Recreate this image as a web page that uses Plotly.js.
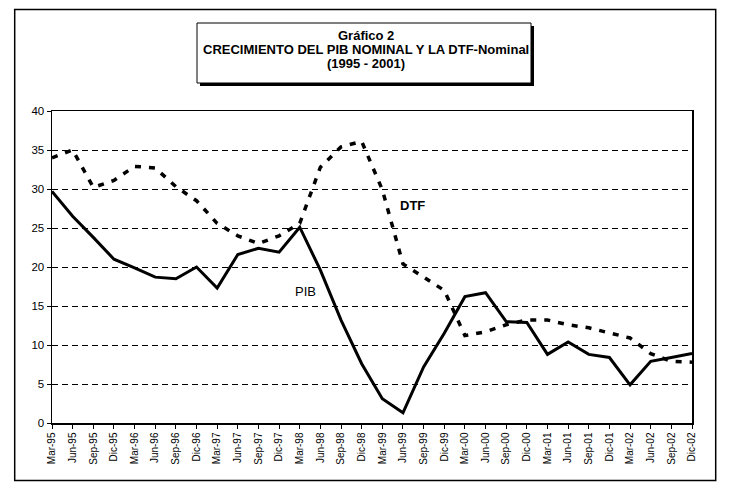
<!DOCTYPE html>
<html>
<head>
<meta charset="utf-8">
<script src="https://cdn.plot.ly/plotly-3.0.1.min.js"></script>
<style>
  html, body { margin: 0; padding: 0; background: #fff; }
  #plot { width: 732px; height: 501px; }
</style>
</head>
<body>
<div id="plot"></div>
<script>
// quarterly data
var quarters = ['Mar-95','Jun-95','Sep-95','Dic-95','Mar-96','Jun-96','Sep-96','Dic-96',
  'Mar-97','Jun-97','Sep-97','Dic-97','Mar-98','Jun-98','Sep-98','Dic-98',
  'Mar-99','Jun-99','Sep-99','Dic-99','Mar-00','Jun-00','Sep-00','Dic-00',
  'Mar-01','Jun-01','Sep-01','Dic-01','Mar-02','Jun-02','Sep-02','Dic-02'];

var pib = [29.7, 26.5, 23.8, 21.0, 19.9, 18.7, 18.5, 20.0,
  17.3, 21.6, 22.4, 21.9, 25.1, 19.6, 13.2, 7.6,
  3.1, 1.3, 7.2, 11.5, 16.2, 16.7, 13.0, 12.9,
  8.8, 10.4, 8.8, 8.4, 4.9, 7.9, 8.4, 8.9];

var dtf = [34.0, 35.0, 30.2, 31.1, 32.9, 32.7, 30.3, 28.5,
  25.6, 24.0, 23.0, 24.0, 25.6, 32.8, 35.4, 36.1,
  29.9, 20.4, 18.7, 17.0, 11.2, 11.7, 12.6, 13.2,
  13.2, 12.6, 12.2, 11.5, 10.9, 8.9, 7.9, 7.8];

var yTicks = [0, 5, 10, 15, 20, 25, 30, 35, 40];

var titleLines = ['Gráfico 2', 'CRECIMIENTO DEL PIB NOMINAL Y LA DTF-Nominal', '(1995 - 2001)'];

var font = 'Liberation Sans, Arial, sans-serif';

// pixel -> paper helpers (plot area is 52..692 x 111..423)
function px(x) { return (x - 52) / 640; }
function py(y) { return (423 - y) / 312; }

function loadPlot() {
  var data = [
    {
      x: quarters,
      y: dtf,
      mode: 'lines',
      line: { color: 'rgb(0,0,0)', width: 3.5, dash: '6px,8px' },
      hoverinfo: 'skip'
    },
    {
      x: quarters,
      y: pib,
      mode: 'lines',
      line: { color: 'rgb(0,0,0)', width: 3 },
      hoverinfo: 'skip'
    }
  ];

  var annotations = [
    { text: 'PIB', x: px(305), y: py(291), font: { size: 13 } },
    { text: '<b>DTF</b>', x: px(412), y: py(205), font: { size: 13 } },
    { text: '<b>' + titleLines[0] + '</b>', x: px(366), y: py(35), font: { size: 13 } },
    { text: '<b>' + titleLines[1] + '</b>', x: px(366), y: py(49), font: { size: 13 } },
    { text: '<b>' + titleLines[2] + '</b>', x: px(366), y: py(63), font: { size: 13 } }
  ].map(function (a) {
    a.xref = 'paper'; a.yref = 'paper';
    a.xanchor = 'center'; a.yanchor = 'middle';
    a.showarrow = false;
    a.font.family = font; a.font.color = '#000';
    return a;
  });

  var shapes = [
    // outer frame
    { type: 'rect', xref: 'paper', yref: 'paper', layer: 'below',
      x0: px(14.7), x1: px(715.7), y0: py(480.5), y1: py(9.5),
      line: { color: '#000', width: 1.5 } },
    // title box shadow
    { type: 'rect', xref: 'paper', yref: 'paper',
      x0: px(200), x1: px(534), y0: py(86), y1: py(26),
      fillcolor: '#000', line: { width: 0 } },
    // title box
    { type: 'rect', xref: 'paper', yref: 'paper',
      x0: px(197), x1: px(531), y0: py(83), y1: py(23),
      fillcolor: '#fff', line: { color: '#000', width: 1 } }
  ];

  var layout = {
    width: 732,
    height: 501,
    margin: { l: 52, r: 40, t: 111, b: 78 },
    paper_bgcolor: '#fff',
    plot_bgcolor: '#fff',
    showlegend: false,
    font: { family: font, color: '#000' },
    xaxis: {
      type: 'category',
      range: [0, quarters.length - 1],
      tickmode: 'array',
      tickvals: quarters,
      ticktext: quarters,
      tickangle: -90,
      tickfont: { size: 10, color: '#000' },
      ticks: 'outside',
      ticklen: 4,
      tickcolor: '#000',
      showgrid: false,
      showline: true,
      linecolor: '#000',
      linewidth: 1.5,
      mirror: true,
      zeroline: false,
      fixedrange: true
    },
    yaxis: {
      range: [0, 40],
      tickmode: 'array',
      tickvals: yTicks,
      tickfont: { size: 11.5, color: '#000' },
      ticks: 'outside',
      ticklen: 4,
      tickcolor: '#000',
      showgrid: true,
      gridcolor: '#000',
      gridwidth: 1,
      griddash: '6px,4px',
      showline: true,
      linecolor: '#000',
      linewidth: 1.5,
      mirror: true,
      zeroline: false,
      fixedrange: true
    },
    annotations: annotations,
    shapes: shapes
  };

  Plotly.newPlot('plot', data, layout, { displayModeBar: false, staticPlot: true });
}

loadPlot();
</script>
</body>
</html>
